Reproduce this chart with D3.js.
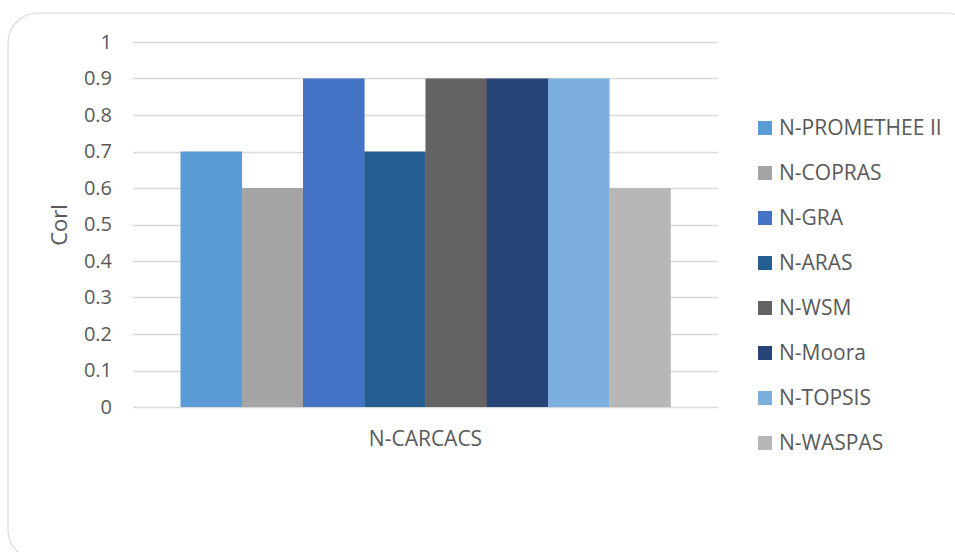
<!DOCTYPE html>
<html>
<head>
<meta charset="utf-8">
<script src="https://cdn.jsdelivr.net/npm/d3@7"></script>
<style>
  body { margin: 0; background: #fff; }
  text { font-family: "Open Sans", "Liberation Sans", sans-serif; fill: #595959; }
</style>
</head>
<body>
<svg id="chart" width="955" height="552"></svg>
<script>
// chart data
const category = 'N-CARCACS';
const seriesNames = ['N-PROMETHEE II', 'N-COPRAS', 'N-GRA', 'N-ARAS', 'N-WSM', 'N-Moora', 'N-TOPSIS', 'N-WASPAS'];
const seriesValues = [0.7, 0.6, 0.9, 0.7, 0.9, 0.9, 0.9, 0.6];
const yTicks = [0, 0.1, 0.2, 0.3, 0.4, 0.5, 0.6, 0.7, 0.8, 0.9, 1];
const colors = ['#5b9bd5', '#a5a5a5', '#4472c4', '#255e91', '#636363', '#264478', '#7cafdd', '#b7b7b7'];

const svg = d3.select('#chart');

// outer frame (runs off the right and bottom edges)
svg.append('rect')
  .attr('x', 8).attr('y', 13)
  .attr('width', 968).attr('height', 547)
  .attr('rx', 30).attr('ry', 30)
  .attr('fill', '#fff')
  .attr('stroke', '#d9d9d9')
  .attr('stroke-width', 1.2);

const margin = { left: 133, top: 42 },
  graphWidth = 585,
  graphHeight = 365;

const graph = svg.append('g')
  .attr('transform', `translate(${margin.left},${margin.top})`);

const y = d3.scaleLinear().domain([0, 1]).range([graphHeight, 0]);

const x0 = d3.scaleBand()
  .domain([category])
  .range([0, graphWidth])
  .paddingInner(0)
  .paddingOuter(0.097);

const x1 = d3.scaleBand()
  .domain(seriesNames)
  .range([0, x0.bandwidth()]);

// gridlines
graph.append('g')
  .selectAll('line')
  .data(yTicks)
  .enter().append('line')
  .attr('x1', 0).attr('x2', graphWidth)
  .attr('y1', d => Math.round(y(d)) + 0.5)
  .attr('y2', d => Math.round(y(d)) + 0.5)
  .attr('stroke', '#d9d9d9')
  .attr('stroke-width', 1.3);

// bars
graph.append('g')
  .attr('transform', `translate(${x0(category)},0)`)
  .selectAll('rect')
  .data(seriesValues)
  .enter().append('rect')
  .attr('x', (d, i) => x1(seriesNames[i]))
  .attr('width', x1.bandwidth() + 0.3)
  .attr('y', d => y(d))
  .attr('height', d => graphHeight - y(d))
  .attr('fill', (d, i) => colors[i]);

// y axis
const yAxis = d3.axisLeft(y)
  .tickValues(yTicks)
  .tickSize(0)
  .tickPadding(21)
  .tickFormat(d => d3.format('~g')(d));

const yAxisGroup = graph.append('g').call(yAxis);
yAxisGroup.select('.domain').remove();
yAxisGroup.selectAll('text')
  .attr('font-size', 20)
  .style('fill', '#595959');

// x axis label
graph.append('text')
  .attr('x', x0(category) + x0.bandwidth() / 2)
  .attr('y', graphHeight + 39)
  .attr('text-anchor', 'middle')
  .attr('font-size', 21)
  .text(category);

// y title
svg.append('text')
  .attr('transform', 'translate(67,225) rotate(-90)')
  .attr('text-anchor', 'middle')
  .attr('font-size', 22)
  .text('Corl');

// legend
const legend = svg.append('g')
  .attr('transform', 'translate(758,128)')
  .selectAll('g')
  .data(seriesNames)
  .enter().append('g')
  .attr('transform', (d, i) => `translate(0,${i * 45})`);

legend.append('rect')
  .attr('x', 0).attr('y', -7)
  .attr('width', 14).attr('height', 14)
  .attr('fill', (d, i) => colors[i]);

legend.append('text')
  .attr('x', 21).attr('y', 0)
  .attr('dy', '0.35em')
  .attr('font-size', 21)
  .text(d => d);
</script>
</body>
</html>
